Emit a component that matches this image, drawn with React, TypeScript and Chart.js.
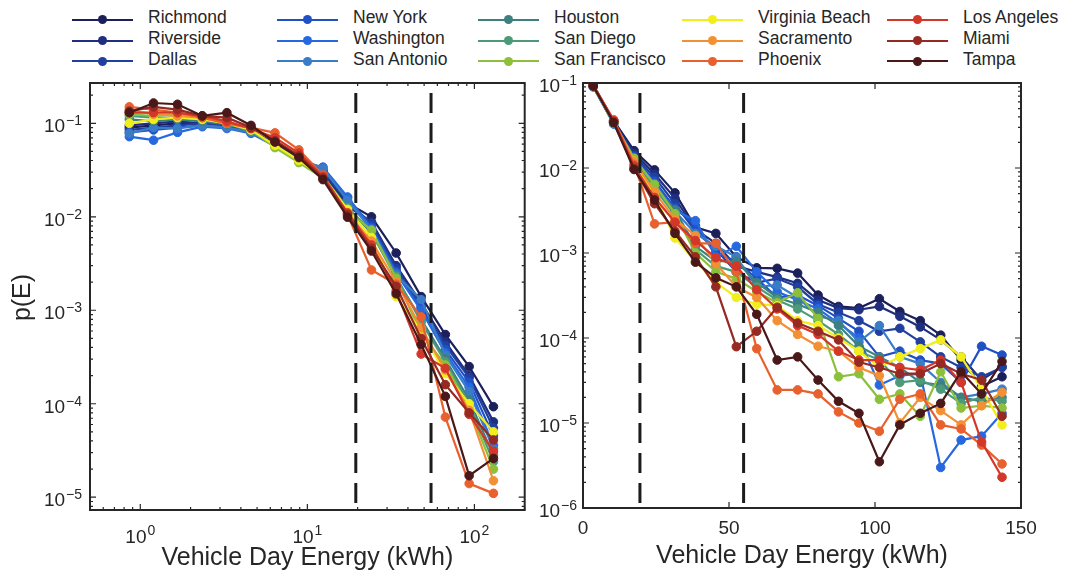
import React, { useEffect, useRef } from 'react';
import { Chart, registerables } from 'chart.js';

Chart.register(...registerables);

const FONT = '"Liberation Sans", Arial, Helvetica, sans-serif';
const INK = '#262626';

// ---------- DATA ----------
const cities = [
  'Richmond', 'Riverside', 'Dallas',
  'New York', 'Washington', 'San Antonio',
  'Houston', 'San Diego', 'San Francisco',
  'Virginia Beach', 'Sacramento', 'Phoenix',
  'Los Angeles', 'Miami', 'Tampa',
];
const cityColors = [
  '#1b1f5a', '#1f2e7e', '#213f9e',
  '#1f50c6', '#2668e0', '#3a7cc6',
  '#3d8080', '#4c9a7a', '#8cc03c',
  '#f2ee1e', '#f39034', '#e8602e',
  '#d2372a', '#962a22', '#4a1818',
];

// log-binned energies (left panel), kWh
const leftEnergy = [0.86, 1.2, 1.67, 2.35, 3.3, 4.6, 6.4, 8.9, 12.4, 17.4, 24.2, 34, 48, 67, 93, 130];
// linear-binned energies (right panel), kWh
const rightEnergy = [3.5, 10.5, 17.5, 24.5, 31.5, 38.5, 45.5, 52.5, 59.5, 66.5, 73.5, 80.5, 87.5, 94.5, 101.5, 108.5, 115.5, 122.5, 129.5, 136.5, 143.5];

// p(E), left panel (log bins)
const richmondLog = [0.09, 0.095, 0.1, 0.1, 0.095, 0.085, 0.062, 0.042, 0.03, 0.014, 0.01, 0.0041, 0.0014, 5.5e-4, 2.5e-4, 9.3e-5];
const riversideLog = [0.095, 0.1, 0.105, 0.1, 0.098, 0.085, 0.06, 0.041, 0.029, 0.013, 0.0088, 0.003, 0.0012, 4.6e-4, 2e-4, 6.4e-5];
const dallasLog = [0.085, 0.09, 0.095, 0.1, 0.095, 0.082, 0.06, 0.042, 0.031, 0.0145, 0.0085, 0.0028, 0.0011, 4.2e-4, 1.9e-4, 5.5e-5];
const newYorkLog = [0.08, 0.085, 0.09, 0.095, 0.09, 0.08, 0.058, 0.041, 0.032, 0.016, 0.0078, 0.0026, 0.00105, 3.8e-4, 1.7e-4, 4.5e-5];
const washingtonLog = [0.072, 0.066, 0.08, 0.092, 0.088, 0.078, 0.057, 0.04, 0.034, 0.0163, 0.0075, 0.0025, 0.001, 3.5e-4, 1.5e-4, 3.6e-5];
const sanAntonioLog = [0.078, 0.09, 0.088, 0.095, 0.09, 0.08, 0.058, 0.042, 0.033, 0.015, 0.0072, 0.0024, 0.0013, 3.3e-4, 1.35e-4, 3.3e-5];
const houstonLog = [0.11, 0.105, 0.11, 0.105, 0.098, 0.083, 0.058, 0.04, 0.028, 0.012, 0.0068, 0.0022, 0.0008, 3e-4, 1.1e-4, 2.8e-5];
const sanDiegoLog = [0.12, 0.115, 0.115, 0.11, 0.1, 0.082, 0.057, 0.039, 0.027, 0.0125, 0.007, 0.0023, 0.00075, 2.8e-4, 1e-4, 2.4e-5];
const sanFranciscoLog = [0.125, 0.12, 0.125, 0.12, 0.105, 0.085, 0.055, 0.038, 0.026, 0.0115, 0.0072, 0.0022, 0.00056, 2.6e-4, 9e-5, 2e-5];
const virginiaBeachLog = [0.1, 0.11, 0.115, 0.11, 0.1, 0.085, 0.058, 0.04, 0.027, 0.012, 0.006, 0.0014, 0.0006, 2.1e-4, 1e-4, 5e-5];
const sacramentoLog = [0.14, 0.125, 0.12, 0.115, 0.1, 0.088, 0.065, 0.045, 0.027, 0.011, 0.0055, 0.002, 0.00065, 2.3e-4, 8.5e-5, 1.5e-5];
const phoenixLog = [0.15, 0.14, 0.13, 0.115, 0.1, 0.09, 0.079, 0.052, 0.028, 0.0105, 0.0027, 0.0019, 0.00085, 7.2e-5, 1.4e-5, 1.1e-5];
const losAngelesLog = [0.13, 0.13, 0.13, 0.12, 0.105, 0.088, 0.07, 0.048, 0.027, 0.011, 0.005, 0.0016, 0.00034, 2.4e-4, 7.7e-5, 3.1e-5];
const miamiLog = [0.135, 0.15, 0.14, 0.12, 0.115, 0.09, 0.065, 0.045, 0.026, 0.0105, 0.0046, 0.0018, 0.0005, 1.6e-4, 8e-5, 4.1e-5];
const tampaLog = [0.13, 0.165, 0.16, 0.12, 0.13, 0.095, 0.063, 0.043, 0.025, 0.0099, 0.0043, 0.0015, 0.00043, 1.2e-4, 1.7e-5, 2.6e-5];

// p(E), right panel (linear bins)
const richmondLin = [0.095, 0.036, 0.016, 0.0095, 0.0051, 0.002, 0.0017, 0.0009, 0.00067, 6.6e-4, 5.8e-4, 3.2e-4, 2.35e-4, 2.25e-4, 2.9e-4, 2.05e-4, 1.6e-4, 1.08e-4, 5.5e-5, 2.7e-5, 3.5e-5];
const riversideLin = [0.093, 0.035, 0.015, 0.0085, 0.0044, 0.0019, 0.0013, 0.0007, 0.0006, 5.2e-4, 4.4e-4, 2.8e-4, 2.25e-4, 2.15e-4, 2.35e-4, 1.8e-4, 1.35e-4, 9.5e-5, 6e-5, 3.2e-5, 4.6e-5];
const dallasLin = [0.092, 0.034, 0.014, 0.0078, 0.0038, 0.0018, 0.0011, 0.0006, 0.00045, 5e-4, 4e-4, 2.5e-4, 2e-4, 1.6e-4, 1.2e-4, 1.3e-4, 9e-5, 6e-5, 4.5e-5, 3.5e-5, 4.5e-5];
const newYorkLin = [0.092, 0.034, 0.0135, 0.007, 0.0034, 0.0021, 0.001, 0.0008, 0.0005, 3e-4, 3.2e-4, 2.4e-4, 1.7e-4, 1.2e-4, 6e-5, 7e-5, 5.5e-5, 5e-5, 3e-5, 8e-5, 6.3e-5];
const washingtonLin = [0.09, 0.033, 0.013, 0.0066, 0.0032, 0.0024, 0.0009, 0.0012, 0.0006, 3.5e-4, 2.8e-4, 2.2e-4, 1.5e-4, 1e-4, 2.8e-5, 3.6e-5, 3.8e-5, 3e-6, 6.3e-6, 7e-6, 1.3e-5];
const sanAntonioLin = [0.091, 0.033, 0.0125, 0.0062, 0.0031, 0.0017, 0.0012, 0.0009, 0.0004, 4.2e-4, 3e-4, 1.8e-4, 1.6e-4, 9e-5, 1.4e-4, 6e-5, 5e-5, 3e-5, 2e-5, 2.2e-5, 2.5e-5];
const houstonLin = [0.092, 0.035, 0.013, 0.006, 0.0032, 0.0012, 0.0008, 0.0008, 0.00045, 3e-4, 2.5e-4, 2e-4, 1.4e-4, 8e-5, 6e-5, 4.5e-5, 3e-5, 2.8e-5, 2e-5, 1.8e-5, 2e-5];
const sanDiegoLin = [0.091, 0.034, 0.0125, 0.0058, 0.0028, 0.0011, 0.0007, 0.0006, 0.0004, 2.8e-4, 2.2e-4, 1.6e-4, 1.1e-4, 7e-5, 5.5e-5, 3e-5, 3.2e-5, 2.5e-5, 1.7e-5, 2e-5, 1.8e-5];
const sanFranciscoLin = [0.092, 0.034, 0.013, 0.0064, 0.0029, 0.001, 0.0006, 0.0005, 0.00035, 2.6e-4, 3.4e-4, 1.7e-4, 3.5e-5, 3.8e-5, 1.9e-5, 2.2e-5, 1.2e-5, 4e-5, 1.5e-5, 1.6e-5, 1.5e-5];
const virginiaBeachLin = [0.092, 0.034, 0.012, 0.0048, 0.0015, 0.0008, 0.00045, 0.0003, 0.00025, 2.4e-4, 1.6e-4, 1.4e-4, 1e-4, 7e-5, 4.5e-5, 6e-5, 7.5e-5, 9.5e-5, 6e-5, 2.5e-5, 9.5e-6];
const sacramentoLin = [0.093, 0.036, 0.012, 0.0052, 0.0025, 0.0016, 0.00075, 0.0004, 0.0003, 1.6e-4, 1.1e-4, 8e-5, 7e-5, 4.5e-5, 3.6e-5, 1e-5, 2e-5, 1.4e-5, 9.5e-6, 1.6e-5, 2.3e-5];
const phoenixLin = [0.094, 0.037, 0.011, 0.0022, 0.0023, 0.0013, 0.0013, 0.0006, 7.5e-5, 2.45e-5, 2.45e-5, 2.2e-5, 1.35e-5, 1e-5, 8e-6, 1.9e-5, 2.2e-5, 9.5e-6, 8.5e-6, 5.5e-6, 3.3e-6];
const losAngelesLin = [0.094, 0.036, 0.0105, 0.0045, 0.0023, 0.0014, 0.00088, 0.0007, 0.00037, 2.2e-4, 1.4e-4, 1.1e-4, 7e-5, 5.5e-5, 5.5e-5, 4.5e-5, 4.2e-5, 5.5e-5, 3e-5, 6e-6, 2.3e-6];
const miamiLin = [0.093, 0.035, 0.0098, 0.0038, 0.0018, 0.0009, 0.0004, 7.9e-5, 1.2e-4, 2.3e-4, 1.5e-4, 1.2e-4, 9.5e-5, 5.2e-5, 4.5e-5, 3.8e-5, 3.8e-5, 5e-5, 3.8e-5, 3.2e-5, 1.2e-5];
const tampaLin = [0.092, 0.034, 0.0096, 0.0042, 0.0017, 0.00078, 0.00051, 0.0004, 1.9e-4, 5.5e-5, 6e-5, 3.2e-5, 1.8e-5, 1.3e-5, 3.5e-6, 9.5e-6, 1.3e-5, 1.7e-5, 4e-5, 2.2e-5, 5.3e-5];

const leftSeries = [
  richmondLog, riversideLog, dallasLog, newYorkLog, washingtonLog, sanAntonioLog,
  houstonLog, sanDiegoLog, sanFranciscoLog, virginiaBeachLog, sacramentoLog, phoenixLog,
  losAngelesLog, miamiLog, tampaLog,
];
const rightSeries = [
  richmondLin, riversideLin, dallasLin, newYorkLin, washingtonLin, sanAntonioLin,
  houstonLin, sanDiegoLin, sanFranciscoLin, virginiaBeachLin, sacramentoLin, phoenixLin,
  losAngelesLin, miamiLin, tampaLin,
];

// dashed threshold energies (kWh)
const thresholds = [19.5, 55];

// axis ranges and tick labels
const leftXRange = [0.5, 200];
const leftYRange = [7.3e-6, 0.27];
const rightXRange = [0, 150];
const rightYRange = [1e-6, 0.1];
const leftXMajorTicks = [1, 10, 100];
const leftYMajorTicks = [1e-1, 1e-2, 1e-3, 1e-4, 1e-5];
const rightXTicks = [0, 50, 100, 150];
const rightYMajorTicks = [1e-1, 1e-2, 1e-3, 1e-4, 1e-5, 1e-6];
const xTitle = 'Vehicle Day Energy (kWh)';
const yTitle = 'p(E)';

// ---------- LAYOUT (not data) ----------
const legendColX = [72, 277, 478, 682, 887];
const legendRowY = [19.5, 40.5, 61];

interface TickSpec { v: number; major: boolean }

function logTicks(min: number, max: number): TickSpec[] {
  const out: TickSpec[] = [];
  const lo = Math.floor(Math.log10(min));
  const hi = Math.ceil(Math.log10(max));
  for (let e = lo; e <= hi; e++) {
    for (let k = 1; k <= 9; k++) {
      const v = k * Math.pow(10, e);
      if (v >= min * 0.999 && v <= max * 1.001) out.push({ v, major: k === 1 });
    }
  }
  return out;
}

function expOf(v: number): string {
  const e = Math.round(Math.log10(v));
  return e < 0 ? '\u2212' + String(-e) : String(e);
}

function drawPow(ctx: CanvasRenderingContext2D, exp: string, x: number, baseY: number, supY: number, align: 'center' | 'right') {
  ctx.font = `19px ${FONT}`;
  const w1 = ctx.measureText('10').width;
  ctx.font = `14px ${FONT}`;
  const w2 = ctx.measureText(exp).width;
  const gap = 1;
  const total = w1 + gap + w2;
  const start = align === 'center' ? x - total / 2 : x - total;
  ctx.textAlign = 'left';
  ctx.textBaseline = 'alphabetic';
  ctx.font = `19px ${FONT}`;
  ctx.fillText('10', start, baseY);
  ctx.font = `14px ${FONT}`;
  ctx.fillText(exp, start + w1 + gap, supY);
}

interface AxesOpts {
  xTicks: TickSpec[];
  yTicks: TickSpec[];
  xMajor: number[];
  yMajor: number[];
  xPow: boolean;
  yGap: number;
  yTitleX?: number;
}

function axesPlugin(o: AxesOpts) {
  return {
    id: 'matlabAxes',
    afterDraw(chart: any) {
      const ctx: CanvasRenderingContext2D = chart.ctx;
      const a = chart.chartArea;
      const xs = chart.scales.x;
      const ys = chart.scales.y;
      ctx.save();
      ctx.strokeStyle = INK;
      ctx.lineWidth = 1.2;
      ctx.beginPath();
      for (const t of o.xTicks) {
        const p = xs.getPixelForValue(t.v);
        const L = t.major ? 6 : 3;
        ctx.moveTo(p, a.bottom); ctx.lineTo(p, a.bottom - L);
        ctx.moveTo(p, a.top); ctx.lineTo(p, a.top + L);
      }
      for (const t of o.yTicks) {
        const p = ys.getPixelForValue(t.v);
        const L = t.major ? 6 : 3;
        ctx.moveTo(a.left, p); ctx.lineTo(a.left + L, p);
        ctx.moveTo(a.right, p); ctx.lineTo(a.right - L, p);
      }
      ctx.stroke();
      ctx.lineWidth = 2;
      ctx.strokeRect(a.left, a.top, a.right - a.left, a.bottom - a.top);

      ctx.fillStyle = INK;
      for (const v of o.xMajor) {
        const p = xs.getPixelForValue(v);
        if (o.xPow) {
          drawPow(ctx, expOf(v), p, a.bottom + 33, a.bottom + 25, 'center');
        } else {
          ctx.font = `19px ${FONT}`;
          ctx.textAlign = 'center';
          ctx.textBaseline = 'alphabetic';
          ctx.fillText(String(v), p, a.bottom + 26);
        }
      }
      for (const v of o.yMajor) {
        const p = ys.getPixelForValue(v);
        drawPow(ctx, expOf(v), a.left - o.yGap, p + 9, p + 2, 'right');
      }
      ctx.font = `25px ${FONT}`;
      ctx.textAlign = 'center';
      ctx.textBaseline = 'alphabetic';
      ctx.fillText(xTitle, (a.left + a.right) / 2, a.bottom + 55);
      if (o.yTitleX !== undefined) {
        ctx.translate(o.yTitleX, (a.top + a.bottom) / 2 + 1);
        ctx.rotate(-Math.PI / 2);
        ctx.fillText(yTitle, 0, 0);
      }
      ctx.restore();
    },
  };
}

function buildDatasets(xs: number[], series: number[][], yr: number[]) {
  const ds: any[] = series.map((vals, i) => ({
    label: cities[i],
    data: vals.map((y, j) => ({ x: xs[j], y })),
    borderColor: cityColors[i],
    backgroundColor: cityColors[i],
    pointBackgroundColor: cityColors[i],
    pointBorderColor: cityColors[i],
    borderWidth: 2.2,
    pointRadius: 4.3,
    pointBorderWidth: 1,
    tension: 0,
    fill: false,
    order: series.length - i,
  }));
  thresholds.forEach((t) => {
    ds.push({
      label: 'threshold',
      data: [{ x: t, y: yr[1] }, { x: t, y: yr[0] }],
      borderColor: '#1c1c1c',
      borderWidth: 3,
      borderDash: [20, 10],
      borderDashOffset: 20,
      pointRadius: 0,
      fill: false,
      order: 0,
    });
  });
  return ds;
}

function baseOptions(padRight: number, yWidth: number, xHeight: number, xScale: any, yScale: any) {
  return {
    animation: false as const,
    responsive: false,
    maintainAspectRatio: false,
    layout: { padding: { left: 0, right: padRight, top: 13, bottom: 0 } },
    plugins: { legend: { display: false }, tooltip: { enabled: false } },
    scales: {
      x: {
        ...xScale,
        grid: { display: false },
        border: { display: false },
        ticks: { display: false },
        afterFit: (s: any) => { s.height = xHeight; },
      },
      y: {
        ...yScale,
        grid: { display: false },
        border: { display: false },
        ticks: { display: false },
        afterFit: (s: any) => { s.width = yWidth; },
      },
    },
  };
}

export default function App() {
  const leftRef = useRef<HTMLCanvasElement>(null);
  const rightRef = useRef<HTMLCanvasElement>(null);

  useEffect(() => {
    Chart.defaults.font.family = FONT;
    const c1 = new Chart(leftRef.current as HTMLCanvasElement, {
      type: 'line',
      data: { datasets: buildDatasets(leftEnergy, leftSeries, leftYRange) },
      options: baseOptions(3, 90, 63,
        { type: 'logarithmic', min: leftXRange[0], max: leftXRange[1] },
        { type: 'logarithmic', min: leftYRange[0], max: leftYRange[1] }) as any,
      plugins: [axesPlugin({
        xTicks: logTicks(leftXRange[0], leftXRange[1]),
        yTicks: logTicks(leftYRange[0], leftYRange[1]),
        xMajor: leftXMajorTicks,
        yMajor: leftYMajorTicks,
        xPow: true,
        yGap: 8,
        yTitleX: 30,
      })],
    });
    const c2 = new Chart(rightRef.current as HTMLCanvasElement, {
      type: 'line',
      data: { datasets: buildDatasets(rightEnergy, rightSeries, rightYRange) },
      options: baseOptions(45, 53, 65,
        { type: 'linear', min: rightXRange[0], max: rightXRange[1] },
        { type: 'logarithmic', min: rightYRange[0], max: rightYRange[1] }) as any,
      plugins: [axesPlugin({
        xTicks: rightXTicks.map((v) => ({ v, major: true })),
        yTicks: logTicks(rightYRange[0], rightYRange[1]),
        xMajor: rightXTicks,
        yMajor: rightYMajorTicks,
        xPow: false,
        yGap: 6,
      })],
    });
    return () => { c1.destroy(); c2.destroy(); };
  }, []);

  return (
    <div style={{ position: 'fixed', left: 0, top: 0, width: 1066, height: 573, background: '#fff', overflow: 'hidden', fontFamily: FONT }}>
      {cities.map((name, i) => {
        const col = Math.floor(i / 3);
        const row = i % 3;
        return (
          <div key={name} style={{ position: 'absolute', left: legendColX[col], top: legendRowY[row] - 10, height: 20, display: 'flex', alignItems: 'center', whiteSpace: 'nowrap' }}>
            <span style={{ position: 'relative', display: 'inline-block', width: 61, height: 2, background: cityColors[i] }}>
              <span style={{ position: 'absolute', left: 26, top: -3.5, width: 9, height: 9, borderRadius: '50%', background: cityColors[i] }} />
            </span>
            <span style={{ marginLeft: 15, fontSize: 17.5, color: INK, position: 'relative', top: -2 }}>{name}</span>
          </div>
        );
      })}
      <canvas ref={leftRef} width={530} height={503} style={{ position: 'absolute', left: 0, top: 70, width: 530, height: 503 }} />
      <canvas ref={rightRef} width={536} height={503} style={{ position: 'absolute', left: 530, top: 70, width: 536, height: 503 }} />
    </div>
  );
}
